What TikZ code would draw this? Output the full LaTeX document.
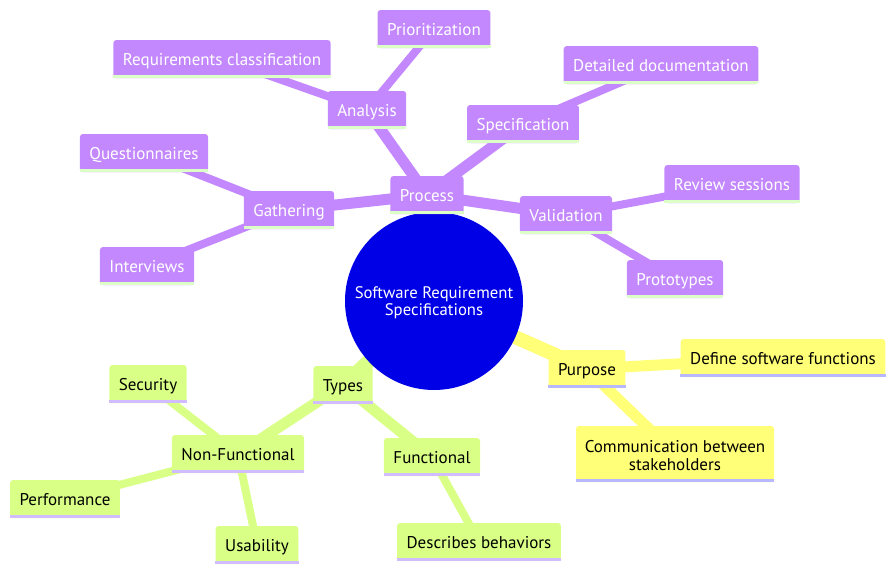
\documentclass[tikz,border=0pt]{standalone}
\usepackage{fontspec}
\setmainfont{PT Sans}
\pgfdeclarelayer{background}
\pgfsetlayers{background,main}
\definecolor{cpurple}{HTML}{C388FD}
\definecolor{cgreen}{HTML}{D9FF86}
\definecolor{cyellow}{HTML}{FFFF78}
\definecolor{cblue}{HTML}{0000E6}
\definecolor{lpurple}{HTML}{DCFFC8}
\definecolor{lgreen}{HTML}{D0BCFF}
\definecolor{lyellow}{HTML}{B8B8FF}
\tikzset{
  box/.style={rectangle, rounded corners=3pt, minimum height=38pt, inner xsep=9.5pt, inner ysep=3pt, font=\fontsize{17}{18.5}\selectfont, align=center},
  one/.style={text height=14pt, text depth=2pt},
  pbox/.style={box, one, fill=cpurple, text=white},
  gbox/.style={box, one, fill=cgreen, text=black},
  ybox/.style={box, fill=cyellow, text=black},
  rootnode/.style={circle, fill=cblue, text=white, minimum size=178pt, inner sep=0pt, align=center, font=\fontsize{16.7}{17}\selectfont},
  e1/.style={line width=14pt},
  e2/.style={line width=11pt},
  e3/.style={line width=8pt},
}
\begin{document}
\begin{tikzpicture}[x=1pt,y=-1pt]
\useasboundingbox (0,0) rectangle (896,573);
% nodes
\node[rootnode] (root) at (434,301) {\raisebox{-2pt}[\height][\depth]{\parbox{170pt}{\centering Software Requirement\\Specifications}}};
\node[pbox] (process) at (427,195) {Process};
\node[pbox] (analysis) at (367,110) {Analysis};
\node[pbox] (prio) at (434,29) {Prioritization};
\node[pbox] (reqclass) at (222,59) {Requirements classification};
\node[pbox] (quest) at (144,153) {Questionnaires};
\node[pbox] (gather) at (289,210) {Gathering};
\node[pbox] (interv) at (147,266) {Interviews};
\node[pbox] (spec) at (523,124) {Specification};
\node[pbox] (detdoc) at (661,65) {Detailed documentation};
\node[pbox] (valid) at (566,215) {Validation};
\node[pbox] (review) at (732,184) {Review sessions};
\node[pbox] (proto) at (675,279) {Prototypes};
\node[ybox, one] (purpose) at (587,369) {Purpose};
\node[ybox, one] (define) at (783,358) {Define software functions};
\node[ybox, minimum height=56pt, inner xsep=4pt] (comm) at (675,454) {\raisebox{-1.5pt}[\height][\depth]{\parbox{190pt}{\centering Communication between\\stakeholders}}};
\node[gbox] (types) at (343,385) {Types};
\node[gbox] (nonfunc) at (238,454) {Non-Functional};
\node[gbox] (security) at (148,384) {Security};
\node[gbox] (perf) at (65,499) {Performance};
\node[gbox] (usab) at (257,545) {Usability};
\node[gbox] (func) at (432,457) {Functional};
\node[gbox] (desc) at (479,542) {Describes behaviors};
% bottom lines
\foreach \n in {process,analysis,prio,reqclass,quest,gather,interv,spec,detdoc,valid,review,proto}
  \draw[lpurple, line width=3pt] ([yshift=1.5pt]\n.south west) -- ([yshift=1.5pt]\n.south east);
\foreach \n in {types,nonfunc,security,perf,usab,func,desc}
  \draw[lgreen, line width=3pt] ([yshift=1.5pt]\n.south west) -- ([yshift=1.5pt]\n.south east);
\foreach \n in {purpose,define,comm}
  \draw[lyellow, line width=3pt] ([yshift=1.5pt]\n.south west) -- ([yshift=1.5pt]\n.south east);
% edges
\begin{pgfonlayer}{background}
\draw[cpurple, e1] (root.center) -- (process.center);
\draw[cgreen, e1] (root.center) -- (types.center);
\draw[cyellow, e1] (root.center) -- (purpose.center);
\draw[cpurple, e2] (process.center) -- (gather.center);
\draw[cpurple, e2] (process.center) -- (analysis.center);
\draw[cpurple, e2] (process.center) -- (spec.center);
\draw[cpurple, e2] (process.center) -- (valid.center);
\draw[cpurple, e3] (gather.center) -- (quest.center);
\draw[cpurple, e3] (gather.center) -- (interv.center);
\draw[cpurple, e3] (analysis.center) -- (reqclass.center);
\draw[cpurple, e3] (analysis.center) -- (prio.center);
\draw[cpurple, e3] (spec.center) -- (detdoc.center);
\draw[cpurple, e3] (valid.center) -- (review.center);
\draw[cpurple, e3] (valid.center) -- (proto.center);
\draw[cgreen, e2] (types.center) -- (nonfunc.center);
\draw[cgreen, e2] (types.center) -- (func.center);
\draw[cgreen, e3] (nonfunc.center) -- (security.center);
\draw[cgreen, e3] (nonfunc.center) -- (perf.center);
\draw[cgreen, e3] (nonfunc.center) -- (usab.center);
\draw[cgreen, e3] (func.center) -- (desc.center);
\draw[cyellow, e2] (purpose.center) -- (define.center);
\draw[cyellow, e2] (purpose.center) -- (comm.center);
\end{pgfonlayer}
\end{tikzpicture}
\end{document}
